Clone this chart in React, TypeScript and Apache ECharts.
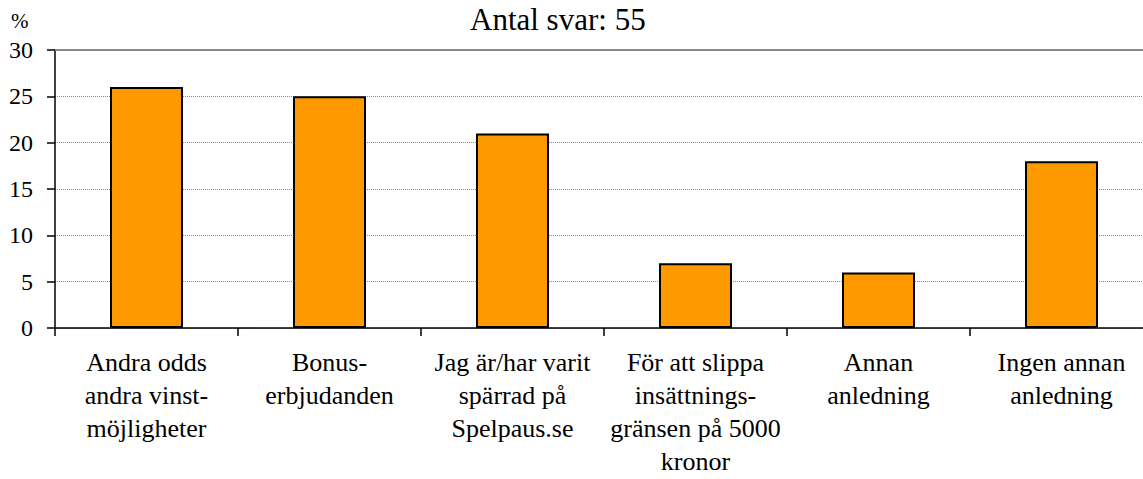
import React, { useEffect, useRef } from "react";
import * as echarts from "echarts";

const categories = [
  "Andra odds\nandra vinst-\nmöjligheter",
  "Bonus-\nerbjudanden",
  "Jag är/har varit\nspärrad på\nSpelpaus.se",
  "För att slippa\ninsättnings-\ngränsen på 5000\nkronor",
  "Annan\nanledning",
  "Ingen annan\nanledning",
];
const values = [26, 25, 21, 7, 6, 18];
const titleText = "Antal svar: 55";
const unitText = "%";

const FONT = "Liberation Serif";

export default function App() {
  const ref = useRef<HTMLDivElement>(null);
  useEffect(() => {
    if (!ref.current) return;
    const chart = echarts.init(ref.current, null, { renderer: "svg" });
    chart.setOption({
      animation: false,
      backgroundColor: "#ffffff",
      textStyle: { fontFamily: FONT },
      title: {
        text: titleText,
        left: 465,
        top: -1,
        textStyle: { fontFamily: FONT, fontSize: 31, fontWeight: "normal", color: "#000" },
      },
      graphic: [
        {
          type: "text",
          x: 11,
          y: 21,
          style: {
            text: unitText,
            fontFamily: FONT,
            fontSize: 21,
            fill: "#000",
            textVerticalAlign: "middle",
          },
        },
      ],
      grid: { left: 55, top: 50, width: 1098, height: 278, outerBoundsMode: "none", containLabel: false },
      xAxis: {
        type: "category",
        data: categories,
        axisLine: { lineStyle: { color: "#000", width: 1.5 } },
        axisTick: { show: true, inside: false, length: 8, alignWithLabel: false, lineStyle: { color: "#000", width: 1.5 } },
        axisLabel: {
          interval: 0,
          margin: 18,
          fontFamily: FONT,
          fontSize: 26,
          lineHeight: 33,
          color: "#000",
          align: "center",
        },
      },
      yAxis: {
        type: "value",
        min: 0,
        max: 30,
        interval: 5,
        axisLine: { show: true, lineStyle: { color: "#000", width: 1.5 } },
        axisTick: { show: true, length: 8, lineStyle: { color: "#000", width: 1.5 } },
        axisLabel: { margin: 22, fontFamily: FONT, fontSize: 24, color: "#000" },
        splitLine: { show: true, lineStyle: { color: "#8a8a8a", type: "dotted", width: 1 } },
      },
      series: [
        {
          type: "bar",
          data: values,
          barWidth: 73,
          itemStyle: { color: "#FF9900", borderColor: "#000", borderWidth: 2 },
          markLine: {
            silent: true,
            symbol: "none",
            label: { show: false },
            lineStyle: { color: "#8a8a8a", type: "solid", width: 2 },
            data: [{ yAxis: 30 }],
          },
        },
      ],
    });
    return () => chart.dispose();
  }, []);
  return (
    <div
      ref={ref}
      style={{ position: "fixed", left: 0, top: 0, width: 1143, height: 479, background: "#fff" }}
    />
  );
}
